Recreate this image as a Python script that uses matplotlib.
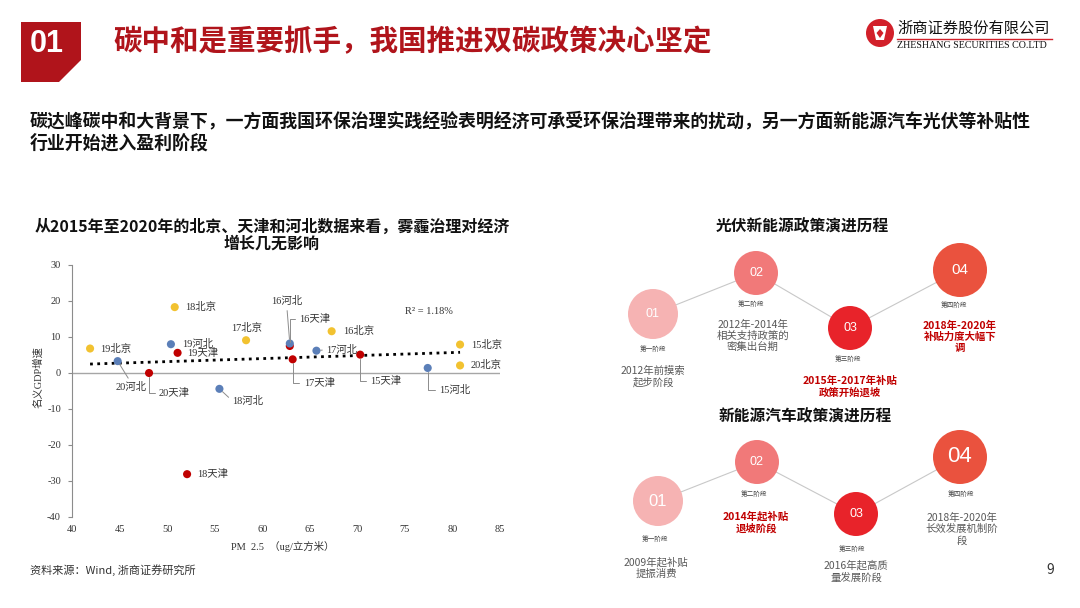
import matplotlib
matplotlib.use('Agg')
import matplotlib.pyplot as plt
import numpy as np
from matplotlib.patches import Circle, Polygon

plt.rcParams['font.family'] = ['Noto Sans CJK SC', 'DejaVu Sans']
plt.rcParams['axes.unicode_minus'] = False
SERIF = ['Liberation Serif', 'Noto Sans CJK SC']

# ---- scatter data: PM2.5 vs nominal GDP growth ----
labels = ['15北京', '16北京', '17北京', '18北京', '19北京', '20北京',
          '15天津', '16天津', '17天津', '18天津', '19天津', '20天津',
          '15河北', '16河北', '17河北', '18河北', '19河北', '20河北']
pm25 = [80.8, 67.3, 58.3, 50.8, 41.9, 80.8,
        70.3, 62.9, 63.2, 52.1, 51.1, 48.1,
        77.4, 62.9, 65.7, 55.5, 50.4, 44.8]
gdp = [7.9, 11.6, 9.1, 18.3, 6.8, 2.1,
       5.1, 7.5, 3.8, -28.1, 5.6, 0.0,
       1.4, 8.2, 6.2, -4.4, 8.0, 3.3]
r2_text = 'R² = 1.18%'
xticks = [40, 45, 50, 55, 60, 65, 70, 75, 80, 85]
yticks = [-40, -30, -20, -10, 0, 10, 20, 30]

region_color = {'北京': '#F2C230', '天津': '#C00000', '河北': '#5B7FB8'}

# label offsets in pixels (dx right, dy down), alignment, leader type
label_pos = {
    '19北京': (10, 0, 'left', None),
    '20河北': (13, 26, 'center', 'straight'),
    '20天津': (10, 20, 'left', 'elbow'),
    '18北京': (10, 0, 'left', None),
    '19河北': (11, 0, 'left', None),
    '19天津': (10, 0, 'left', None),
    '18河北': (13, 12, 'left', 'straight'),
    '17北京': (1, -12, 'center', None),
    '18天津': (10, 0, 'left', None),
    '16河北': (-3, -42, 'center', 'straight'),
    '16天津': (9, -27, 'left', 'elbow'),
    '16北京': (11, 0, 'left', None),
    '17河北': (10, -1, 'left', 'straight'),
    '17天津': (11, 24, 'left', 'elbow'),
    '15天津': (10, 26, 'left', 'elbow'),
    '15河北': (11, 22, 'left', 'elbow'),
    '15北京': (11, 0, 'left', None),
    '20北京': (11, 0, 'left', None),
}

# ---- policy timelines ----
stage_nums = ['01', '02', '03', '04']
stage_names = ['第一阶段', '第二阶段', '第三阶段', '第四阶段']
pv_title = '光伏新能源政策演进历程'
pv_text = ['2012年前摸索\n起步阶段', '2012年-2014年\n相关支持政策的\n密集出台期',
           '2015年-2017年补贴\n政策开始退坡', '2018年-2020年\n补贴力度大幅下\n调']
pv_highlight = [False, False, True, True]
ev_title = '新能源汽车政策演进历程'
ev_text = ['2009年起补贴\n提振消费', '2014年起补贴\n退坡阶段',
           '2016年起高质\n量发展阶段', '2018年-2020年\n长效发展机制阶\n段']
ev_highlight = [False, True, False, False]

fig = plt.figure(figsize=(10.8, 6.08), dpi=100)
bg = fig.add_axes([0, 0, 1, 1])
bg.set_xlim(0, 1080)
bg.set_ylim(608, 0)
bg.set_axis_off()

# header
dark_red = '#B0141B'
bg.add_patch(Polygon([(21, 22), (81, 22), (81, 60), (59, 82), (21, 82)],
                     closed=True, color=dark_red, lw=0))
bg.text(47, 44, '01', color='white', fontsize=22, fontweight='bold',
        family=['Liberation Sans', 'DejaVu Sans'], ha='center', va='center')
bg.text(113, 42, '碳中和是重要抓手，我国推进双碳政策决心坚定', color=dark_red,
        fontsize=20.5, fontweight='bold', ha='left', va='center')

# logo
bg.add_patch(Circle((880, 33), 14, color='#D2202A', lw=0))
bg.add_patch(Polygon([(873, 26), (887, 26), (884, 40), (876, 40)], closed=True,
                     color='white', lw=0))
bg.add_patch(Polygon([(880, 29), (883.5, 33), (880, 38), (876.5, 33)], closed=True,
                     color='#D2202A', lw=0))
bg.text(897, 28, '浙商证券股份有限公司', fontsize=11, color='#111', ha='left', va='center')
bg.plot([897, 1052], [38.5, 38.5], color='#D2202A', lw=1)
bg.text(897, 45, 'ZHESHANG SECURITIES CO.LTD', fontsize=7.2, color='#111',
        family=SERIF, ha='left', va='center')

# subtitle
bg.text(30, 121, '碳达峰碳中和大背景下，一方面我国环保治理实践经验表明经济可承受环保治理带来的扰动，另一方面新能源汽车光伏等补贴性',
        fontsize=12.9, fontweight='bold', color='#111', ha='left', va='center')
bg.text(30, 143, '行业开始进入盈利阶段', fontsize=12.9, fontweight='bold',
        color='#111', ha='left', va='center')

# scatter title
bg.text(272, 235, '从2015年至2020年的北京、天津和河北数据来看，雾霾治理对经济\n增长几无影响',
        fontsize=11.5, fontweight='bold', color='#111', ha='center', va='center',
        linespacing=1.1)

# axis labels
bg.text(38, 377, '名义GDP增速', rotation=90, fontsize=7.5, family=SERIF,
        color='#333', ha='center', va='center')
bg.text(283, 547, 'PM  2.5  （ug/立方米）', fontsize=7.5, family=SERIF,
        color='#333', ha='center', va='center')

# footer
bg.text(30, 570, '资料来源：Wind, 浙商证券研究所', fontsize=8, color='#333',
        ha='left', va='center')
bg.text(1050, 570, '9', fontsize=10, color='#333', ha='center', va='center')

# timelines
circle_colors = ['#F6B3B3', '#F17979', '#E8232A', '#EA523E']


def draw_timeline(title, title_xy, centers, radii, num_sizes, stage_xy, text_xy,
                  texts, highlight):
    bg.text(title_xy[0], title_xy[1], title, fontsize=11.3, fontweight='bold',
            color='#111', ha='center', va='center')
    for i in range(len(centers) - 1):
        bg.plot([centers[i][0], centers[i + 1][0]], [centers[i][1], centers[i + 1][1]],
                color='#C8C8C8', lw=0.8, zorder=1)
    for i, (c, r) in enumerate(zip(centers, radii)):
        bg.add_patch(Circle(c, r, color=circle_colors[i], lw=0, zorder=2))
        bg.text(c[0], c[1], stage_nums[i], color='white', fontsize=num_sizes[i],
                ha='center', va='center', zorder=3,
                family=['Liberation Sans', 'DejaVu Sans'])
        bg.text(stage_xy[i][0], stage_xy[i][1], stage_names[i],
                fontsize=4.8, color='#444', ha='center', va='center')
        if highlight[i]:
            bg.text(text_xy[i][0], text_xy[i][1], texts[i], fontsize=7.5,
                    fontweight='bold', color='#C00000', ha='center', va='center',
                    linespacing=1.15)
        else:
            bg.text(text_xy[i][0], text_xy[i][1], texts[i], fontsize=7.5,
                    color='#595959', ha='center', va='center', linespacing=1.15)


draw_timeline(pv_title, (802, 226),
              [(653, 314), (756, 273), (850, 328), (960, 270)],
              [25, 22, 22, 27], [9, 9, 9, 11],
              [(653, 349), (751, 304), (848, 359), (954, 305)],
              [(653, 377), (753, 336), (850, 386.5), (960, 337)],
              pv_text, pv_highlight)
draw_timeline(ev_title, (805, 416),
              [(658, 501), (757, 462), (856, 514), (960, 457)],
              [25, 22, 22, 27], [12, 9, 9, 16],
              [(655, 539), (754, 494), (852, 549), (961, 494)],
              [(656, 568), (756, 522.5), (856, 571.5), (962, 529)],
              ev_text, ev_highlight)

# ---- scatter chart ----
ax = fig.add_axes([72 / 1080, 1 - 517 / 608, 428 / 1080, 252 / 608])
ax.set_facecolor('none')
ax.set_xlim(40, 85)
ax.set_ylim(-40, 30)
for s in ['top', 'right', 'bottom']:
    ax.spines[s].set_visible(False)
ax.spines['left'].set_color('#8c8c8c')
ax.spines['left'].set_linewidth(0.8)
ax.axhline(0, color='#a6a6a6', lw=1.0, zorder=1)
ax.set_xticks(xticks)
ax.set_yticks(yticks)
ax.tick_params(axis='x', length=0, pad=6, labelsize=7.5, labelcolor='#333')
ax.tick_params(axis='y', length=3, width=0.8, color='#8c8c8c', pad=5,
               labelsize=7.5, labelcolor='#333')
for t in ax.get_xticklabels() + ax.get_yticklabels():
    t.set_fontfamily(SERIF)

# trend line
k, b = np.polyfit(pm25, gdp, 1)
xs = np.array([min(pm25), max(pm25)])
ax.plot(xs, k * xs + b, color='black', lw=2, linestyle=(0, (1, 1.6)), zorder=2)
ax.text(75.0, 17.2, r2_text, fontsize=7.5, family=SERIF, color='#333',
        ha='left', va='center')

colors = [region_color[l[2:]] for l in labels]
ax.scatter(pm25, gdp, s=34, c=colors, zorder=3, linewidths=0)

px_per_pt = 100 / 72
for lab, x, y in zip(labels, pm25, gdp):
    dx, dy, ha, leader = label_pos[lab]
    kw = {}
    if leader:
        if ha == 'left':
            relpos = (0, 0.5)
        elif dy > 0:
            relpos = (0.5, 1)
        else:
            relpos = (0.5, 0)
        cs = 'angle,angleA=0,angleB=90,rad=0' if leader == 'elbow' else 'arc3'
        kw['arrowprops'] = dict(arrowstyle='-', color='#8c8c8c', lw=0.7,
                                shrinkA=1, shrinkB=3, relpos=relpos,
                                connectionstyle=cs)
    ax.annotate(lab, (x, y), xytext=(dx / px_per_pt, -dy / px_per_pt),
                textcoords='offset points', ha=ha, va='center', fontsize=7.5,
                family=SERIF, color='#333', zorder=4, **kw)

fig.savefig('out.png', dpi=100)
